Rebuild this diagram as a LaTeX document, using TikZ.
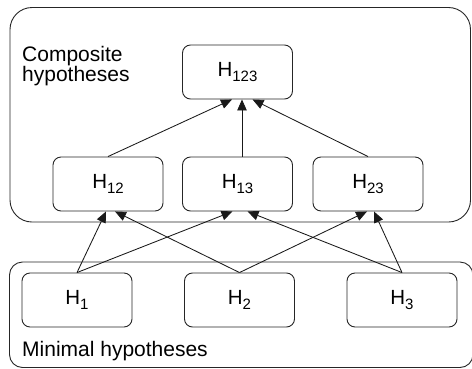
\documentclass[tikz,border=0pt]{standalone}
\usepackage{fontspec}
\setmainfont{Liberation Sans}
\usetikzlibrary{arrows.meta,calc}
\newcommand{\hyp}[1]{\fontsize{20.5}{24}\selectfont H\raisebox{-5.5pt}{\fontsize{15}{16}\selectfont #1}}
\tikzset{
  hbox/.style={draw=black!85, line width=0.9pt, rounded corners=8pt, minimum width=110pt, minimum height=54pt, inner sep=0pt},
  group/.style={draw=black!85, line width=0.9pt},
  lbl/.style={anchor=base west, inner sep=0pt, font=\fontsize{21}{24}\selectfont},
  conn/.style={draw=black!90, line width=0.85pt, -{Triangle[length=11pt,width=9.5pt]}}
}
\begin{document}
\begin{tikzpicture}[x=1pt,y=-1pt]
\useasboundingbox (0,0) rectangle (472,368);
\begin{scope}
\clip (0,0) rectangle (472,368);
\draw[group, rounded corners=22pt] (10,7.5) rectangle (470.5,222);
\draw[group, rounded corners=13pt] (9.5,262) rectangle (473,367.5);
\end{scope}
\node[lbl] (c1) at (22,61.5) {Composite};
\node[lbl] (c2) at (22,81.5) {hypotheses};
\node[lbl] (m1) at (22,356.5) {Minimal hypotheses};

\node[hbox] (H123) at (237.5,72) {\hyp{123}};
\node[hbox] (H12) at (108,184) {\hyp{12}};
\node[hbox] (H13) at (237.5,184) {\hyp{13}};
\node[hbox] (H23) at (368,184) {\hyp{23}};
\node[hbox] (H1) at (77,300) {\hyp{1}};
\node[hbox] (H2) at (239.5,300) {\hyp{2}};
\node[hbox] (H3) at (402,300) {\hyp{3}};

\draw[conn] (H12.north) -- ([xshift=-5.5pt]H123.south);
\draw[conn] ([xshift=4.5pt]H13.north) -- ([xshift=4.5pt]H123.south);
\draw[conn] (H23.north) -- ([xshift=15pt]H123.south);

\draw[conn] (H1.north) -- ([xshift=-2pt]H12.south);
\draw[conn] (H1.north) -- ([xshift=-5pt]H13.south);
\draw[conn] (H2.north) -- ([xshift=7pt]H12.south);
\draw[conn] (H2.north) -- ([xshift=-1pt]H23.south);
\draw[conn] (H3.north) -- ([xshift=10pt]H13.south);
\draw[conn] (H3.north) -- ([xshift=6pt]H23.south);
\end{tikzpicture}
\end{document}
